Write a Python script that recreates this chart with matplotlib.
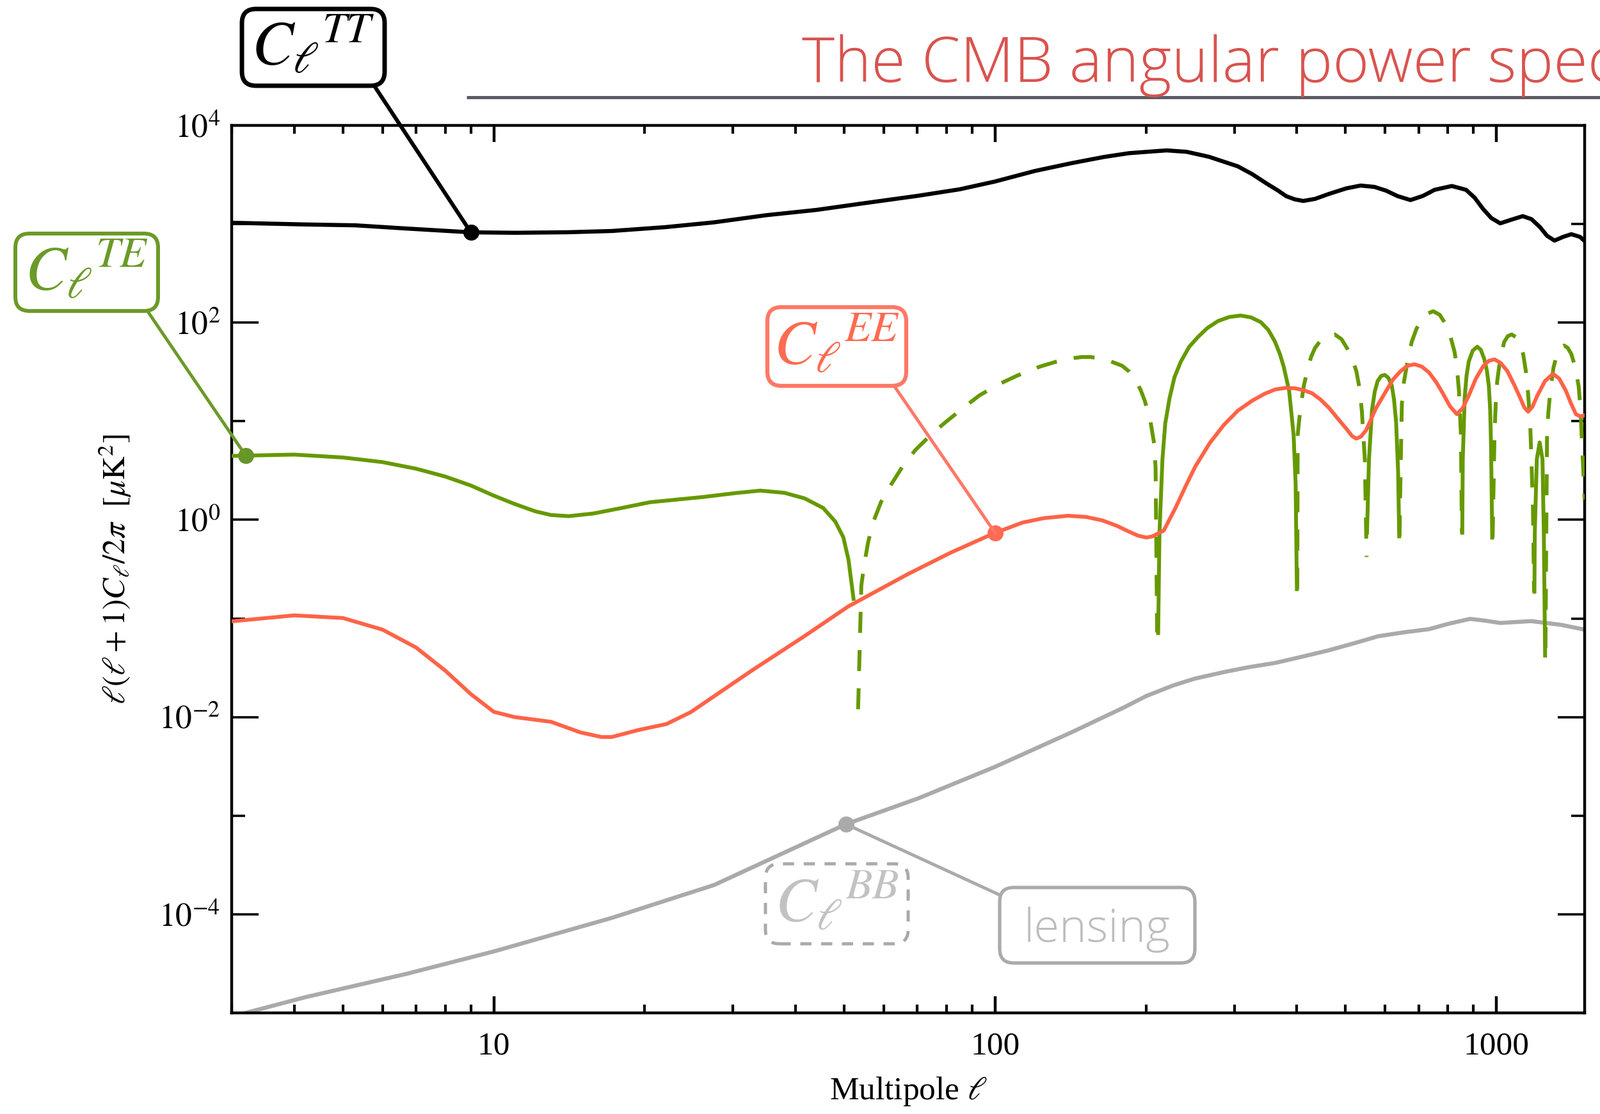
import numpy as np
import matplotlib
matplotlib.use("Agg")
import matplotlib.pyplot as plt
from matplotlib import font_manager
from matplotlib.patches import FancyBboxPatch, ConnectionPatch
from matplotlib.lines import Line2D
from matplotlib.ticker import LogLocator, FixedLocator, FuncFormatter, NullFormatter

# ===== data =====
ell_tt = [3, 4.2, 5.3, 6.7, 9, 11, 14, 17.2, 22, 27.5, 35, 44, 55, 70, 85, 100,
          120, 142, 165, 185, 206, 220, 241, 267, 305, 326, 348, 366, 381, 396,
          412, 435, 464, 502, 536, 571, 603, 635, 674, 714, 753, 815, 870, 905,
          941, 977, 1018, 1073, 1129, 1175, 1222, 1262, 1306, 1358, 1411, 1469,
          1500]
cl_tt = [1030, 990, 970, 900, 824, 815, 825, 850, 930, 1040, 1230, 1390, 1630,
         1930, 2250, 2700, 3450, 4140, 4790, 5230, 5450, 5580, 5400, 4810, 3845,
         3200, 2575, 2200, 1915, 1780, 1714, 1800, 2024, 2300, 2455, 2380, 2177,
         1920, 1750, 1930, 2223, 2430, 2223, 1850, 1419, 1150, 1016, 1110, 1202,
         1120, 929, 760, 679, 740, 789, 740, 672]

# TE: sign kept, negative stretches are drawn dashed as |TE|
ell_te = [3, 4, 5, 6, 7, 8, 9, 10, 11, 12.1, 13, 14.1, 15.8, 18, 20.5, 26, 30.4,
          34, 38, 41.7, 45.4, 48, 49.8, 51, 52.2,
          53.3, 54.1, 54.8, 55.8, 57, 59.2, 62.1, 65.5, 69.4, 75.5, 79.6, 87.2,
          93.1, 102, 111, 122.6, 132.7, 140, 149, 155, 161.5, 170, 179.3, 185,
          190, 195, 199, 204, 207.6, 209, 210.5,
          211.5, 212.8, 215.7, 218.5, 222.9, 228, 234.8, 244, 254, 265, 278.4,
          293, 309, 324, 339, 351, 361.7, 370, 376.3, 386, 394, 397.7, 400,
          400.8, 401.5, 406.6, 413, 420.6, 427, 434.7, 446, 460, 476, 491, 505,
          516, 525.6, 533, 539, 546.5, 551,
          552, 557, 564.8, 572, 579.7, 589, 599, 609, 618.7, 625, 631, 636.8, 640,
          641, 644, 648, 654, 661, 669, 678, 693, 710, 728, 748, 771, 793.5, 810,
          825, 834, 842, 849.7, 853.5,
          855, 857, 864.5, 872, 881, 897, 916, 931, 946, 957, 966, 972, 976, 981,
          983, 991.5, 997, 1004, 1019, 1037, 1054, 1073, 1095, 1116, 1131, 1145,
          1157, 1168, 1183, 1189,
          1191, 1193, 1204, 1220, 1236, 1243.5, 1251,
          1253, 1262, 1270, 1280, 1300, 1323, 1343, 1365, 1388, 1411, 1435, 1459,
          1472, 1482, 1500]
cl_te = [4.45, 4.59, 4.29, 3.85, 3.30, 2.75, 2.23, 1.76, 1.45, 1.22, 1.12, 1.09,
         1.16, 1.32, 1.51, 1.70, 1.87, 1.98, 1.88, 1.65, 1.32, 0.96, 0.667,
         0.394, 0.158,
         -0.012, -0.216, -0.348, -0.589, -0.92, -1.51, -2.30, -3.53, -5.13,
         -7.80, -9.75, -14.2, -18.3, -23.9, -29.2, -35.7, -40.3, -43.0, -44.8,
         -44.8, -43.4, -40.5, -36.5, -32.0, -26.5, -21.0, -16.0, -10.2, -5.96,
         -3.43, -0.072,
         0.071, 0.74, 4.1, 9.5, 17.2, 28, 40.4, 57, 71.6, 88, 103.7, 114, 118,
         113, 101, 84, 64.1, 48, 36.1, 20.4, 7.27, 2.32, 0.198,
         -0.2, -7.3, -13.6, -23, -34.0, -45, -55.3, -66, -73, -75.9, -68, -53.8,
         -43, -32.2, -22, -12.9, -4.1, -0.42,
         0.74, 4.1, 12.9, 20, 25.6, 28.8, 29.5, 27.5, 22.9, 16.5, 9.7, 3.08, 0.68,
         -0.68, -3.08, -15.3, -25, -34.0, -48, -63.9, -87, -106.8, -123, -130.5,
         -120, -95.3, -72, -50.8, -36, -20.4, -7.3, -0.74,
         0.74, 4.1, 17.2, 29, 40.4, 52, 57, 53, 42.7, 33, 22.9, 13, 5.46, 0.66,
         -0.66, -7.3, -15, -25.6, -45, -63.9, -73, -75.9, -71, -60.4, -48, -32.2,
         -19, -9.7, -1.31, -0.187,
         0.187, 0.74, 4.1, 6.1, 4.1, 0.74, 0.042,
         -0.05, -7.3, -12.5, -19.2, -35, -49.4, -56, -58.6, -55.5, -48.0, -36,
         -22.9, -13, -6.0, -1.6]

ell_ee = [3, 4, 5, 6, 7, 8, 9, 10, 11, 13, 14.9, 16.4, 17.2, 19.4, 22.1, 24.7,
          32.7, 41.7, 50.9, 67.2, 81.7, 99.5, 113.4, 125, 139.8, 152, 163.7, 175,
          184, 193, 200.5, 206, 217, 228.8, 240, 250.7, 268, 285.8, 305, 326, 345,
          362, 380, 396, 412, 429, 446, 464, 483, 502, 515, 525.6, 537, 550, 575,
          603, 622, 644, 665, 687, 710, 733.6, 758, 782, 808, 834, 857, 881, 910,
          941, 966, 991.5, 1020, 1052, 1085, 1116, 1137, 1157, 1180, 1207, 1250,
          1297, 1335, 1376, 1410, 1441, 1470, 1500]
cl_ee = [0.0935, 0.1075, 0.101, 0.077, 0.0507, 0.0296, 0.0171, 0.0113, 0.010,
         0.00896, 0.00698, 0.00628, 0.00628, 0.00738, 0.0085, 0.0112, 0.0296,
         0.0664, 0.132, 0.284, 0.467, 0.731, 0.938, 1.04, 1.10, 1.07, 0.987,
         0.87, 0.769, 0.69, 0.662, 0.68, 0.78, 1.31, 2.2, 3.46, 6.0, 9.14, 12.8,
         16.2, 19.0, 21.0, 21.8, 21.6, 20.7, 19.2, 16.6, 13.6, 10.6, 8.4, 7.1,
         6.67, 7.0, 8.14, 13.5, 20.4, 26.5, 32.2, 36.5, 37.8, 35.8, 31.3, 25.0,
         19.2, 14.2, 11.8, 13.6, 18.2, 27.0, 36.1, 41.0, 42.4, 39.0, 32.2, 23.5,
         17.2, 13.8, 12.5, 14.0, 18.2, 25.5, 30.3, 27.0, 20.4, 15.0, 11.8, 11.2,
         11.5]

ell_bb = [3, 3.2, 4.2, 6.7, 10, 17.2, 27.5, 50.4, 70.3, 100, 142, 180, 200, 227,
          250, 287, 320, 363, 410, 459, 520, 581, 650, 735, 800, 886, 950, 1019,
          1173, 1350, 1500]
cl_bb = [9e-6, 1.0e-5, 1.44e-5, 2.49e-5, 4.2e-5, 9.2e-5, 1.98e-4, 8.2e-4, 1.5e-3,
         3.13e-3, 7.0e-3, 0.0124, 0.0163, 0.021, 0.0245, 0.0287, 0.032, 0.0355,
         0.041, 0.047, 0.056, 0.066, 0.072, 0.078, 0.088, 0.099, 0.095, 0.090,
         0.094, 0.086, 0.077]

# ===== style =====
BLACK = '#000000'
GREEN = '#669900'
GREEN_BOX = '#6b9a28'
SALMON = '#ff6347'
SALMON_BOX = '#ff7866'
SALMON_TXT = '#ff6a50'
GREY = '#aaaaaa'
GREY_TXT = '#c2c2c2'
TITLE_RED = '#d9534f'


def has_light(name):
    for f in font_manager.fontManager.ttflist:
        if f.name == name:
            w = f.weight
            if isinstance(w, str):
                if w.lower() in ('light', 'extra light', 'ultralight', 'thin'):
                    return True
            elif w <= 300:
                return True
    return False


names = {f.name for f in font_manager.fontManager.ttflist}
if has_light('Open Sans'):
    LIGHT_SANS, TITLE_SIZE, LENS_SIZE = 'Open Sans', 70, 52
elif 'Roboto' in names:
    LIGHT_SANS, TITLE_SIZE, LENS_SIZE = 'Roboto', 78, 57
else:
    LIGHT_SANS, TITLE_SIZE, LENS_SIZE = 'Liberation Sans', 69, 54

plt.rcParams.update({
    'font.family': 'serif',
    'font.serif': ['Liberation Serif', 'DejaVu Serif'],
    'mathtext.fontset': 'stix',
    'axes.linewidth': 3.2,
})

W, H = 2500, 1741
fig = plt.figure(figsize=(W / 100, H / 100), dpi=100)
ax = fig.add_axes([362 / W, 1 - 1583 / H, (2476 - 362) / W, (1583 - 196) / H])


def fxy(px, py):
    # pixel (from top-left) -> figure fraction
    return px / W, 1 - py / H


def loglog_at(x, xs, ys):
    return 10 ** np.interp(np.log10(x), np.log10(xs), np.log10(np.abs(ys)))


# ===== curves =====
ax.plot(ell_bb, cl_bb, color=GREY, lw=4.6, zorder=2)

te = np.array(cl_te)
ell_te_a = np.array(ell_te)
breaks = np.where(np.diff(np.sign(te)) != 0)[0] + 1
for seg_l, seg_c in zip(np.split(ell_te_a, breaks), np.split(te, breaks)):
    if seg_c[0] > 0:
        ax.plot(seg_l, seg_c, color=GREEN, lw=4.3, zorder=3)
    else:
        ax.plot(seg_l, -seg_c, color=GREEN, lw=4.3, dashes=(5.5, 4.5), zorder=3)

ax.plot(ell_ee, cl_ee, color=SALMON, lw=4.3, zorder=4)
ax.plot(ell_tt, cl_tt, color=BLACK, lw=4.6, zorder=5)

# ===== axes =====
ax.set_xscale('log')
ax.set_yscale('log')
ax.set_xlim(3, 1500)
ax.set_ylim(1e-5, 1e4)

ax.xaxis.set_major_locator(FixedLocator([10, 100, 1000]))
ax.xaxis.set_minor_locator(LogLocator(base=10, subs=np.arange(2, 10)))
ax.xaxis.set_major_formatter(FuncFormatter(lambda v, p: f'{int(round(v))}'))
ax.xaxis.set_minor_formatter(NullFormatter())
ax.yaxis.set_major_locator(FixedLocator([1e-4, 1e-2, 1, 1e2, 1e4]))
ax.yaxis.set_minor_locator(FixedLocator([1e-3, 1e-1, 1e1, 1e3]))
ax.yaxis.set_major_formatter(
    FuncFormatter(lambda v, p: f'$10^{{{int(round(np.log10(v)))}}}$'))
ax.yaxis.set_minor_formatter(NullFormatter())

ax.tick_params(which='both', direction='in', top=True, right=True,
               color=BLACK, labelsize=37)
ax.tick_params(axis='x', which='major', length=19, width=3.2, pad=21)
ax.tick_params(axis='x', which='minor', length=9.5, width=3.0)
ax.tick_params(axis='y', which='major', length=30, width=2.6, pad=13)
ax.tick_params(axis='y', which='minor', length=15, width=2.6)

ax.set_xlabel(r'Multipole $\ell$', fontsize=37)
ax.xaxis.set_label_coords(0.5, -0.07)
ax.set_ylabel(r'$\ell(\ell+1)C_\ell/2\pi\ \ [\mu\mathrm{K}^2]$', fontsize=36)
ax.yaxis.set_label_coords(-0.073, 0.5)

# ===== title and rule =====
fig.text(1253 / W, 1 - 128 / H, 'The CMB angular power spectrum',
         color=TITLE_RED, fontsize=TITLE_SIZE, family=LIGHT_SANS,
         fontweight='light', ha='left', va='baseline')
fig.add_artist(Line2D([729 / W, 1.0], [1 - 151.5 / H] * 2, color='#5a5d63',
                      lw=3.6, solid_capstyle='butt'))

# ===== labelled boxes =====
boxes = [
    # text, box px (x0, y0, x1, y1), edge, text colour, lw, linestyle, font
    (r'$C_{\ell}{}^{TT}$', (378, 14, 601, 134), BLACK, BLACK, 5.0, '-', None),
    (r'$C_{\ell}{}^{TE}$', (24, 365, 247, 486), GREEN_BOX, GREEN_BOX, 4.3, '-', None),
    (r'$C_{\ell}{}^{EE}$', (1199, 480, 1416, 603), SALMON_BOX, SALMON_TXT, 4.5, '-', None),
    (r'$C_{\ell}{}^{BB}$', (1196, 1350, 1419, 1475), GREY, GREY_TXT, 3.6, (0, (3.5, 3)), None),
    ('lensing', (1562, 1387, 1867, 1505), GREY, '#bdbdbd', 3.8, '-', LIGHT_SANS),
]
for txt, (x0, y0, x1, y1), ec, tc, lw, ls, fam in boxes:
    bx, by = fxy(x0, y1)
    patch = FancyBboxPatch((bx, by), (x1 - x0) / W, (y1 - y0) / H,
                           boxstyle='round,pad=0,rounding_size=0.0088',
                           mutation_aspect=W / H, transform=fig.transFigure,
                           facecolor='white', edgecolor=ec, lw=lw, linestyle=ls,
                           zorder=3)
    fig.add_artist(patch)
    cx, cy = fxy((x0 + x1) / 2, (y0 + y1) / 2)
    if fam is None:
        fig.text(cx, cy, txt, color=tc, fontsize=70, ha='center', va='center',
                 zorder=4)
    else:
        fig.text(cx, cy - 0.004, txt, color=tc, fontsize=LENS_SIZE, family=fam,
                 fontweight='light', ha='center', va='center', zorder=4)

# ===== pointers and dots =====
pointers = [
    ((586, 136), 9, ell_tt, cl_tt, BLACK, BLACK, 4.4),
    ((231, 487), 3.2, ell_te[:5], cl_te[:5], GREEN_BOX, '#66952a', 3.6),
    ((1397, 603), 100, ell_ee, cl_ee, SALMON_BOX, '#ff6a55', 3.6),
    ((1565, 1400), 50.4, ell_bb, cl_bb, GREY, GREY, 3.6),
]
for start, ell0, xs, ys, lc, dc, lw in pointers:
    val = loglog_at(ell0, xs, ys)
    con = ConnectionPatch(xyA=fxy(*start), coordsA='figure fraction',
                          xyB=(ell0, val), coordsB='data', axesB=ax,
                          arrowstyle='-', color=lc, lw=lw, zorder=2.5)
    fig.add_artist(con)
    ax.plot([ell0], [val], 'o', color=dc, markersize=18, markeredgewidth=0,
            zorder=6, clip_on=False)

fig.savefig('out.png', dpi=100)
